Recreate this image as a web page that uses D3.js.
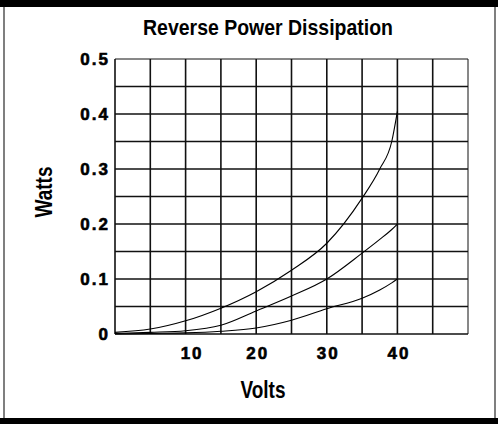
<!DOCTYPE html>
<html>
<head>
<meta charset="utf-8">
<script src="https://cdn.jsdelivr.net/npm/d3@7"></script>
<style>
  body { margin: 0; background: #fff; }
  svg { display: block; }
</style>
</head>
<body>
<svg id="chart" width="498" height="424"></svg>
<script>
// volts along the x axis
var volts = [0, 5, 10, 15, 20, 25, 30, 35, 37.5, 39.2, 40];
// watts for the three curves
var curveHigh = [0.003, 0.009, 0.024, 0.047, 0.077, 0.116, 0.165, 0.247, 0.30, 0.35, 0.405];
var curveMid  = [0.001, 0.003, 0.006, 0.016, 0.042, 0.069, 0.100, 0.147, 0.172, 0.190, 0.200];
var curveLow  = [0.000, 0.001, 0.002, 0.005, 0.011, 0.025, 0.046, 0.065, 0.080, 0.093, 0.100];

var xTicks = [10, 20, 30, 40];
var yTicks = [0, 0.1, 0.2, 0.3, 0.4, 0.5];
var xGrid = [0, 5, 10, 15, 20, 25, 30, 35, 40, 45, 50];
var yGrid = [0, 0.05, 0.1, 0.15, 0.2, 0.25, 0.3, 0.35, 0.4, 0.45, 0.5];

var margin = {top: 59, right: 30, bottom: 90, left: 115},
    width = 353,
    height = 275;

var svg = d3.select("#chart");

// frame
svg.append("rect").attr("x", 0).attr("y", 0).attr("width", 498).attr("height", 7).attr("fill", "#000");
svg.append("rect").attr("x", 0).attr("y", 418).attr("width", 498).attr("height", 6).attr("fill", "#000");
svg.append("line").attr("x1", 4).attr("x2", 4).attr("y1", 7).attr("y2", 418)
    .attr("stroke", "#555").attr("stroke-width", 1.5);
svg.append("line").attr("x1", 495).attr("x2", 495).attr("y1", 7).attr("y2", 418)
    .attr("stroke", "#555").attr("stroke-width", 1.5);

var x = d3.scaleLinear().domain([0, 50]).range([0, width]);
var y = d3.scaleLinear().domain([0, 0.5]).range([height, 0]);

var g = svg.append("g")
    .attr("transform", "translate(" + margin.left + "," + margin.top + ")");

// grid
g.selectAll(".vgrid")
    .data(xGrid)
    .enter().append("line")
    .attr("class", "vgrid")
    .attr("x1", function(d) { return x(d); })
    .attr("x2", function(d) { return x(d); })
    .attr("y1", 0)
    .attr("y2", height)
    .attr("stroke", "#111")
    .attr("stroke-width", function(d) { return d === 50 ? 1 : 1.6; });

g.selectAll(".hgrid")
    .data(yGrid)
    .enter().append("line")
    .attr("class", "hgrid")
    .attr("x1", 0)
    .attr("x2", width)
    .attr("y1", function(d) { return y(d); })
    .attr("y2", function(d) { return y(d); })
    .attr("stroke", "#111")
    .attr("stroke-width", function(d) { return d === 0.5 ? 1 : 1.4; });

// axes
var xAxis = d3.axisBottom(x).tickValues(xTicks).tickSize(0).tickPadding(13)
    .tickFormat(d3.format("d"));
var yAxis = d3.axisLeft(y).tickValues(yTicks).tickSize(0).tickPadding(5)
    .tickFormat(function(d) { return d === 0 ? "0" : d3.format(".1f")(d); });

function tickStyle(sel) {
  sel.attr("font-family", "'Liberation Sans', Arial, sans-serif")
    .attr("font-weight", "bold")
    .attr("font-size", 17)
    .attr("letter-spacing", 2)
    .attr("fill", "#000")
    .attr("stroke", "#000")
    .attr("stroke-width", 0.6);
}

g.append("g")
    .attr("transform", "translate(0," + height + ")")
    .call(xAxis)
    .call(function(s) { s.select(".domain").remove(); })
    .selectAll("text")
    .call(tickStyle)
    .attr("dx", function(d) { return d === 10 ? 6 : 1; });

g.append("g")
    .call(yAxis)
    .call(function(s) { s.select(".domain").remove(); })
    .selectAll("text")
    .call(tickStyle);

// curves
var series = [curveHigh, curveMid, curveLow];
var line = d3.line()
    .x(function(d, i) { return x(volts[i]); })
    .y(function(d) { return y(d); })
    .curve(d3.curveMonotoneX);

g.selectAll(".curve")
    .data(series)
    .enter().append("path")
    .attr("class", "curve")
    .attr("d", line)
    .attr("fill", "none")
    .attr("stroke", "#000")
    .attr("stroke-width", 1.1);

// labels
svg.append("text")
    .attr("x", 268).attr("y", 35)
    .attr("text-anchor", "middle")
    .attr("font-family", "'Liberation Sans Narrow', 'Liberation Sans', Arial, sans-serif")
    .attr("font-weight", "bold")
    .attr("font-size", 22)
    .attr("textLength", 250)
    .attr("lengthAdjust", "spacingAndGlyphs")
    .text("Reverse Power Dissipation");

svg.append("text")
    .attr("x", 263).attr("y", 398)
    .attr("text-anchor", "middle")
    .attr("font-family", "'Liberation Sans Narrow', 'Liberation Sans', Arial, sans-serif")
    .attr("font-weight", "bold")
    .attr("font-size", 23)
    .attr("textLength", 45)
    .attr("lengthAdjust", "spacingAndGlyphs")
    .text("Volts");

svg.append("text")
    .attr("transform", "translate(52,192) rotate(-90)")
    .attr("text-anchor", "middle")
    .attr("font-family", "'Liberation Sans Narrow', 'Liberation Sans', Arial, sans-serif")
    .attr("font-weight", "bold")
    .attr("font-size", 23)
    .attr("textLength", 51)
    .attr("lengthAdjust", "spacingAndGlyphs")
    .text("Watts");
</script>
</body>
</html>
